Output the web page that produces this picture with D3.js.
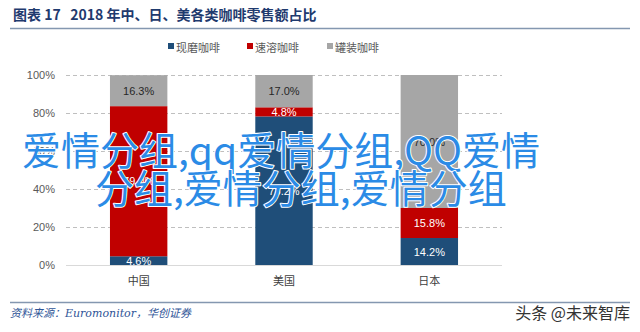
<!DOCTYPE html>
<html>
<head>
<meta charset="utf-8">
<script src="https://cdn.jsdelivr.net/npm/d3@7/dist/d3.min.js"></script>
<style>
  html, body { margin: 0; padding: 0; background: #fff; }
  svg { display: block; }
</style>
</head>
<body>
<svg id="chart" width="640" height="332"></svg>
<script>
// ---- data ----
const categories = ["中国", "美国", "日本"];
const seriesNames = ["现磨咖啡", "速溶咖啡", "罐装咖啡"];
const freshGround = [4.6, 78.2, 14.2];
const instant = [79.0, 4.8, 15.8];
const canned = [16.3, 17.0, 70.0];
const yTicks = [0, 20, 40, 60, 80, 100];
const titleText = "图表 17   2018 年中、日、美各类咖啡零售额占比";
const sourceText = "资料来源：Euromonitor，华创证券";
const brandText = "头条 @未来智库";
const overlayLines = ["爱情分组,qq爱情分组,QQ爱情", "分组,爱情分组,爱情分组"];

const colors = ["#1f4e79", "#c00000", "#a6a6a6"];
const labelColors = ["#ffffff", "#ffffff", "#262626"];

const svg = d3.select("#chart");
const W = 640, H = 332;
const plot = { left: 66, right: 502, top: 75, bottom: 265 };

// title
svg.append("text")
  .attr("x", 13).attr("y", 20)
  .attr("font-family", "'Noto Sans CJK SC', sans-serif")
  .attr("font-weight", 700)
  .attr("font-size", 14)
  .attr("fill", "#1f3a6e")
  .attr("xml:space", "preserve")
  .style("white-space", "pre")
  .text(titleText);

svg.append("line")
  .attr("x1", 10).attr("x2", 630).attr("y1", 28.5).attr("y2", 28.5)
  .attr("stroke", "#8497b0").attr("stroke-width", 1.5);

// legend
const legendX = [168, 247, 327];
const lg = svg.append("g");
seriesNames.forEach((name, i) => {
  lg.append("rect").attr("x", legendX[i]).attr("y", 43).attr("width", 6).attr("height", 6)
    .attr("fill", colors[i]);
  lg.append("text").attr("x", legendX[i] + 8).attr("y", 47)
    .attr("dominant-baseline", "central")
    .attr("font-family", "'Noto Sans CJK SC', sans-serif")
    .attr("font-size", 11).attr("fill", "#595959")
    .text(name);
});

// scales
const x = d3.scaleBand().domain(categories).range([plot.left, plot.right]).paddingInner(0.605).paddingOuter(0.3025);
const y = d3.scaleLinear().domain([0, 100]).range([plot.bottom, plot.top]);

// gridlines
svg.append("g").selectAll("line")
  .data(yTicks.filter(d => d > 0))
  .join("line")
  .attr("x1", plot.left).attr("x2", plot.right)
  .attr("y1", d => Math.round(y(d)) + 0.5).attr("y2", d => Math.round(y(d)) + 0.5)
  .attr("stroke", "#bfbfbf").attr("stroke-dasharray", "4,3");

// y axis labels
const yAxis = d3.axisLeft(y).tickValues(yTicks).tickSize(0).tickPadding(11).tickFormat(d => d + "%");
const yg = svg.append("g").attr("transform", `translate(${plot.left},0)`).call(yAxis);
yg.select(".domain").remove();
yg.selectAll("text")
  .attr("font-family", "'Liberation Sans', Arial, sans-serif")
  .attr("font-size", 11).attr("fill", "#595959");

// stacked bars
const rows = categories.map((c, i) => ({ cat: c, s0: freshGround[i], s1: instant[i], s2: canned[i] }));
const stack = d3.stack().keys(["s0", "s1", "s2"]);
const stacked = stack(rows);

const barsG = svg.append("g");
stacked.forEach((layer, li) => {
  barsG.append("g").selectAll("rect")
    .data(layer)
    .join("rect")
    .attr("x", d => x(d.data.cat))
    .attr("width", x.bandwidth())
    .attr("y", d => y(d[1]))
    .attr("height", d => y(d[0]) - y(d[1]))
    .attr("fill", colors[li]);
});

// baseline
svg.append("line")
  .attr("x1", plot.left).attr("x2", plot.right)
  .attr("y1", plot.bottom + 0.5).attr("y2", plot.bottom + 0.5)
  .attr("stroke", "#d9d9d9").attr("stroke-width", 1);

// segment labels
const fmt = d3.format(".1f");
stacked.forEach((layer, li) => {
  barsG.append("g").selectAll("text")
    .data(layer)
    .join("text")
    .attr("x", d => x(d.data.cat) + x.bandwidth() / 2)
    .attr("y", d => (y(d[0]) + y(d[1])) / 2)
    .attr("text-anchor", "middle")
    .attr("dominant-baseline", "central")
    .attr("font-family", "'Liberation Sans', Arial, sans-serif")
    .attr("font-size", 11)
    .attr("fill", labelColors[li])
    .text(d => fmt(d[1] - d[0]) + "%");
});

// x axis labels
const xAxis = d3.axisBottom(x).tickSize(0).tickPadding(12);
const xg = svg.append("g").attr("transform", `translate(0,${plot.bottom})`).call(xAxis);
xg.select(".domain").remove();
xg.selectAll("text")
  .attr("font-family", "'Noto Sans CJK SC', sans-serif")
  .attr("font-size", 11).attr("fill", "#404040");

// footer
svg.append("line")
  .attr("x1", 10).attr("x2", 630).attr("y1", 302.5).attr("y2", 302.5)
  .attr("stroke", "#8497b0").attr("stroke-width", 1.5);

svg.append("text")
  .attr("x", 10).attr("y", 317)
  .attr("font-family", "'DejaVu Serif', 'Noto Sans CJK SC', serif")
  .attr("font-style", "italic")
  .attr("font-size", 11)
  .attr("fill", "#2f5597")
  .text(sourceText);

svg.append("text")
  .attr("x", 630).attr("y", 319)
  .attr("text-anchor", "end")
  .attr("font-family", "'Noto Sans CJK SC', sans-serif")
  .attr("font-size", 16)
  .attr("fill", "#333333")
  .text(brandText);

// overlay text
const ov = svg.append("g");
const ovX = [22, 95];
const ovY = [165, 203];
overlayLines.forEach((t, i) => {
  ov.append("text")
    .attr("x", ovX[i]).attr("y", ovY[i])
    .attr("font-family", "'Noto Sans CJK SC', sans-serif")
    .attr("font-size", 39)
    .attr("fill", "#2b8be6")
    .attr("stroke", "#ffffff")
    .attr("stroke-width", 2)
    .attr("stroke-linejoin", "round")
    .attr("paint-order", "stroke")
    .text(t);
});
</script>
</body>
</html>
